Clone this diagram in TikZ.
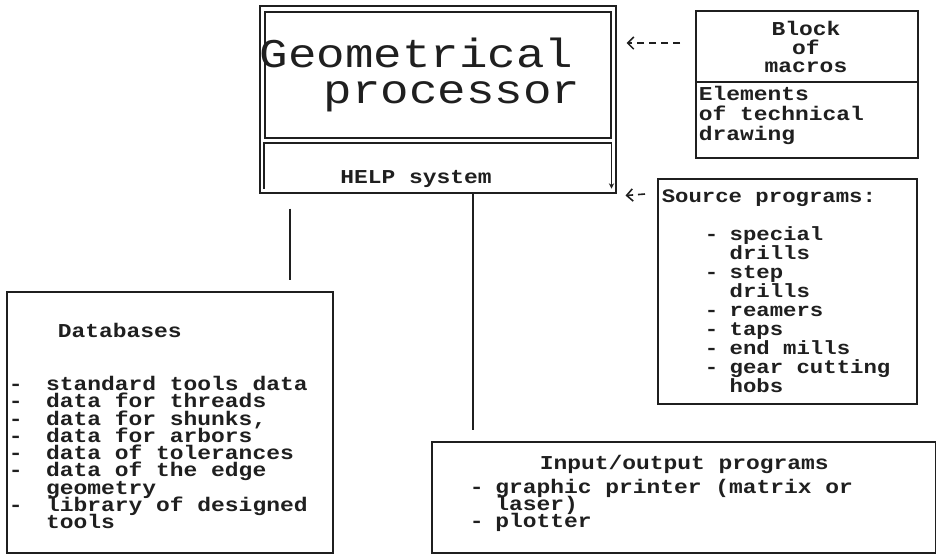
\documentclass[tikz,border=0pt]{standalone}
\usepackage{fontspec}
\newfontfamily\dotfont[FakeStretch=1.165]{Liberation Mono}
\usetikzlibrary{arrows.meta}
\newcommand{\lsitem}[1][1.3em]{\makebox[#1][l]{-}}
\newcommand{\lsnext}[1][1.3em]{\hspace*{#1}}
\lineskiplimit=-\maxdimen

\begin{document}
\begin{tikzpicture}[x=0.02cm,y=-0.02cm,line width=0.9pt,color=black!88,
  box/.style={draw,anchor=north west,inner sep=0pt},
  txt/.style={inner sep=0pt,anchor=north west,align=left,
    font=\dotfont\bfseries\fontsize{11.2}{9.8}\selectfont},
  link/.style={dash pattern=on 4pt off 2.8pt,
    -{Straight Barb[length=3.5pt,width=7pt]}}]
\useasboundingbox (0,0) rectangle (938,556);

\node[box,minimum width=7.12cm,minimum height=3.74cm] (proc) at (259,5) {};
\node[box,minimum width=6.92cm,minimum height=2.52cm] (geom) at (264,11) {};
\node[anchor=north west,inner sep=0pt,minimum width=6.92cm,minimum height=0.88cm] (help) at (264,143) {};
\draw[-{Stealth[length=3pt,width=3pt]}] (help.south west) -- (help.north west)
    -- (help.north east) -- (help.south east);
\node[txt,font=\dotfont\fontsize{23.2}{20.4}\selectfont] (geotxt) at (259,37.5)
  {Geometrical\\\hspace*{36.3pt}processor};
\node[txt,anchor=base,font=\dotfont\bfseries\fontsize{11.2}{10}\selectfont] (helptxt) at (416,183) {HELP system};

\node[box,minimum width=4.44cm,minimum height=2.94cm] (blk) at (695,10) {};
\draw ([shift={(0,72)}]blk.north west) -- ([shift={(0,72)}]blk.north east);
\node[txt,anchor=north,align=center,font=\dotfont\bfseries\fontsize{11.2}{10.5}\selectfont] (blktxt) at (806,20.7) {Block\\of\\macros};
\node[txt,font=\dotfont\bfseries\fontsize{11.2}{11.3}\selectfont] (elemtxt) at (698,85.7) {Elements\\of technical\\drawing};

\node[box,minimum width=5.18cm,minimum height=4.5cm] (src) at (657,178) {};
\node[txt,font=\dotfont\bfseries\fontsize{10.9}{10}\selectfont] (srctitle) at (661,189) {Source programs:};
\node[txt,font=\dotfont\bfseries\fontsize{10.9}{10.77}\selectfont] (srclist) at (704,226)
  {\lsitem special\\\lsnext drills\\\lsitem step\\\lsnext drills\\\lsitem reamers\\
   \lsitem taps\\\lsitem end mills\\\lsitem gear cutting\\\lsnext hobs};

\node[box,minimum width=6.52cm,minimum height=5.22cm] (db) at (6,291) {};
\node[txt] (dbtitle) at (57,322.7) {Databases};
\node[txt] (dblist) at (8,375.7)
  {\lsitem[1.9em]standard tools data\\\lsitem[1.9em]data for threads\\
   \lsitem[1.9em]data for shunks,\\\lsitem[1.9em]data for arbors\\
   \lsitem[1.9em]data of tolerances\\\lsitem[1.9em]data of the edge\\
   \lsnext[1.9em]geometry\\\lsitem[1.9em]library of designed\\\lsnext[1.9em]tools};

\node[box,minimum width=10.08cm,minimum height=2.22cm] (io) at (431,441) {};
\node[txt] (iotitle) at (539,454.7) {Input/output programs};
\node[txt,font=\dotfont\bfseries\fontsize{11.2}{9.64}\selectfont] (iolist) at (469,478.7)
  {\lsitem graphic printer (matrix or\\\lsnext laser)\\\lsitem plotter};

\draw[link] ([shift={(-15,33)}]blk.north west) -- ([shift={(10,38)}]proc.north east);
\draw[link] ([shift={(-12,16)}]src.north west) -- ([shift={(9,2)}]proc.south east);
\draw ([shift={(31,15)}]proc.south west) -- ([shift={(284,-11)}]db.north west);
\draw ([shift={(214,0)}]proc.south west) -- ([shift={(42,-11)}]io.north west);
\end{tikzpicture}
\end{document}
